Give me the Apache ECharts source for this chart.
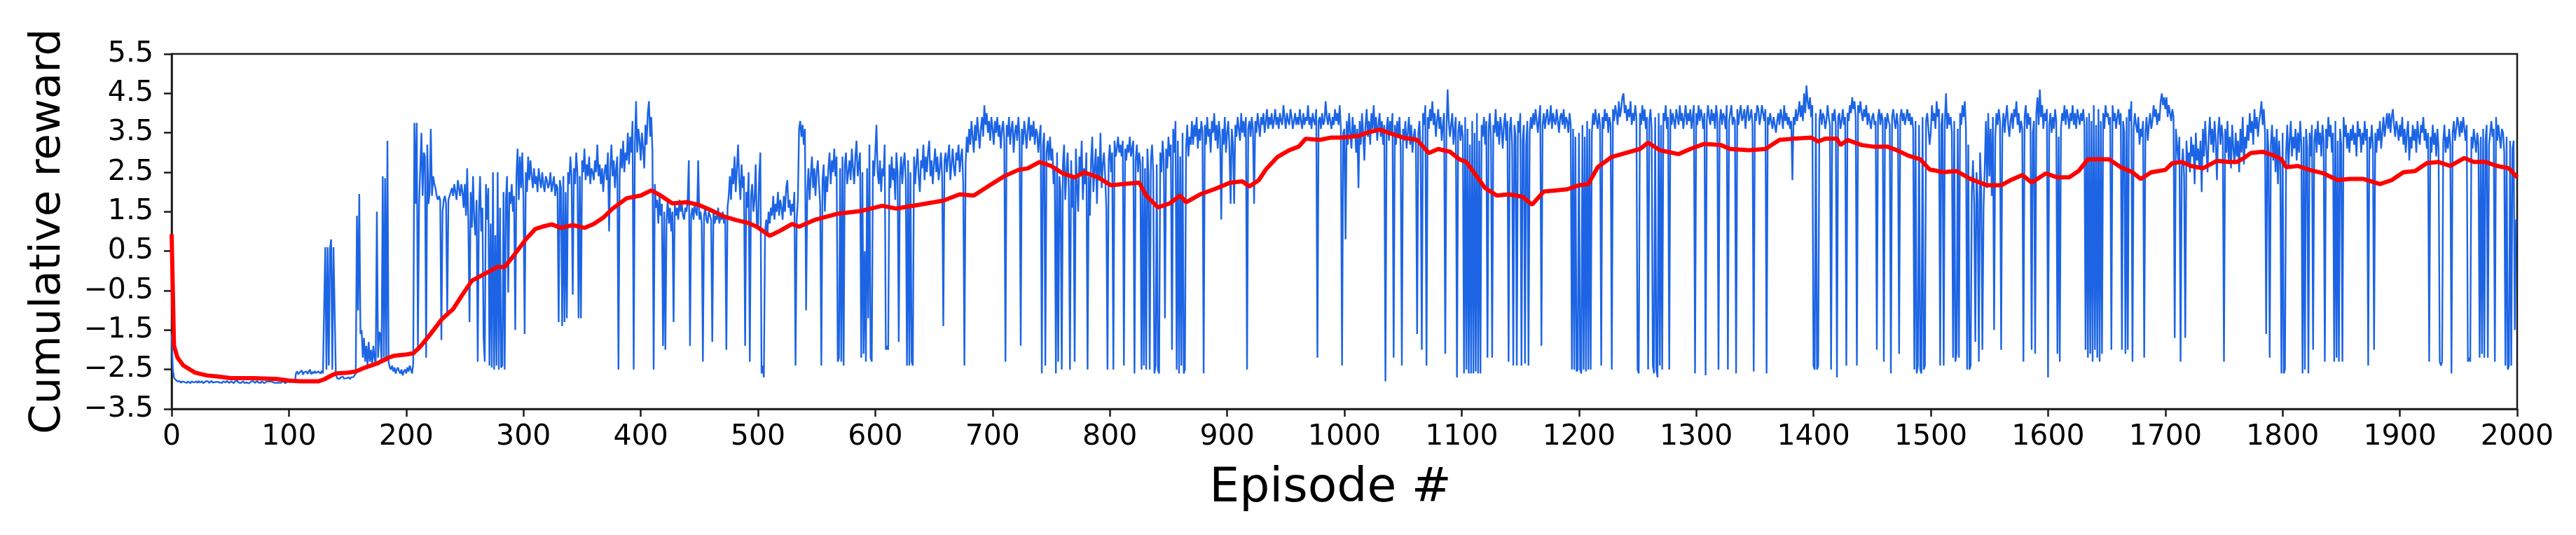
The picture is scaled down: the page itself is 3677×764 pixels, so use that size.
<!DOCTYPE html>
<html><head><meta charset="utf-8">
<script src="https://cdn.jsdelivr.net/npm/echarts@6/dist/echarts.min.js"></script>
<style>html,body{margin:0;padding:0;background:#fff}#c{width:3677px;height:764px}</style>
</head><body><div id="c"></div>
<script>
// Cumulative reward per episode (episodes 0..1999)
const rewards0 = [
-1.6,-2.5,-2.7,-2.75,-2.78,-2.8,-2.82,-2.8,-2.84,-2.8,
-2.8,-2.82,-2.79,-2.84,-2.8,-2.81,-2.85,-2.8,-2.78,-2.83,
-2.82,-2.8,-2.84,-2.79,-2.83,-2.81,-2.8,-2.85,-2.82,-2.8,
-2.83,-2.8,-2.84,-2.82,-2.79,-2.83,-2.8,-2.82,-2.84,-2.81,
-2.8,-2.83,-2.81,-2.84,-2.8,-2.82,-2.83,-2.79,-2.82,-2.84,
-2.81,-2.8,-2.83,-2.85,-2.8,-2.82,-2.79,-2.83,-2.81,-2.84,
-2.82,-2.8,-2.84,-2.81,-2.83,-2.8,-2.85,-2.82,-2.8,-2.83,
-2.8,-2.84,-2.82,-2.79,-2.83,-2.81,-2.84,-2.8,-2.82,-2.85,
-2.82,-2.8,-2.83,-2.81,-2.84,-2.8,-2.82,-2.83,-2.8,-2.84,
-2.81,-2.83,-2.8,-2.84,-2.82,-2.8,-2.83,-2.85,-2.82,-2.8,
-2.83,-2.82,-2.84,-2.8,-2.83,-2.82,-2.6,-2.55,-2.62,-2.58,
-2.6,-2.52,-2.63,-2.57,-2.6,-2.55,-2.61,-2.58,-2.5,-2.62,
-2.56,-2.6,-2.54,-2.59,-2.62,-2.55,-2.58,-2.6,-2.53,-2.6,
-2.57,0.6,-2.5,0.6,-2.4,0.55,0.8,-2.5,0.6,0.6,
-2.6,-2.72,-2.7,-2.74,-2.7,-2.72,-2.68,-2.73,-2.7,-2.72,
-2.71,-2.7,-2.74,-2.7,-2.72,-2.69,-2.71,-2.6,1.4,-1.0,
1.95,-1.6,-1.5,-2.2,-1.7,-2.3,-1.9,-2.4,-1.8,-2.3,
-2.0,-2.4,-1.9,-2.2,-2.4,1.5,-2.2,-1.55,-1.6,-2.3,
2.4,-2.2,2.35,-2.3,3.3,-2.3,-2.45,-2.5,-2.4,-2.55,
-2.45,-2.6,-2.5,-2.45,-2.55,-2.6,-2.5,-2.65,-2.55,-2.5,
-2.6,-2.45,-2.55,-2.4,-2.5,-2.6,-2.35,3.75,1.7,3.75,
-2.0,1.7,2.6,3.5,1.9,3.0,2.9,-2.2,3.2,1.7,
2.0,3.6,1.9,2.4,2.2,2.1,1.9,1.8,1.9,1.8,
-1.75,1.5,1.8,1.9,1.7,-1.1,1.8,1.9,2.0,2.1,
1.9,2.2,2.0,1.8,2.3,2.1,1.9,2.2,2.0,1.6
];
const rewards250 = [
2.2,1.4,2.6,1.2,-1.3,2.0,1.1,2.4,1.3,0.9,
1.8,-2.3,1.5,2.4,1.0,1.6,-1.7,-2.3,2.2,1.3,
2.1,-2.4,1.2,-2.45,2.5,-2.5,0.9,-2.4,2.5,-2.5,
1.6,-2.45,-2.4,2.0,-2.5,1.8,2.4,-0.55,2.0,1.7,
2.2,1.5,1.9,-1.5,2.4,3.1,1.8,2.9,2.1,3.0,
1.8,-1.6,2.5,2.0,2.9,2.3,2.8,2.4,2.1,2.6,
2.2,2.4,2.0,2.6,2.3,2.1,2.5,2.2,2.0,2.4,
2.3,2.1,2.2,2.5,2.0,2.2,2.4,1.9,2.2,2.1,
-1.3,2.3,2.1,-1.4,2.4,-1.3,2.0,-1.2,2.5,2.2,
2.9,2.4,-0.6,2.6,2.2,3.0,2.5,-1.2,2.4,-1.2,
2.8,2.5,3.1,2.3,2.7,2.4,2.9,2.2,2.6,2.5,
2.3,2.8,2.5,3.2,2.4,2.7,2.2,2.6,2.0,2.5,
2.7,2.3,3.0,1.0,2.6,3.2,2.4,2.8,2.1,2.6,
2.9,-2.5,2.4,3.1,2.6,3.3,2.5,3.0,2.8,3.5,
2.7,3.4,3.0,3.8,-2.5,3.2,4.3,3.0,3.6,3.3,
2.8,3.5,3.1,2.6,3.7,3.2,4.0,4.3,3.4,3.9,
3.0,-2.5,2.2,1.6,1.8,1.2,1.9,1.4,1.7,-1.9,
1.5,-2.0,1.3,1.8,1.2,1.6,1.0,1.5,-1.3,1.7,
1.4,1.6,1.3,1.8,1.5,1.7,1.4,1.3,1.6,1.5,
1.8,2.8,-1.9,1.4,1.6,1.3,1.7,1.5,1.4,2.8,
1.3,1.5,1.2,-2.3,1.4,1.6,1.3,1.2,1.5,1.4,
1.3,-1.8,1.5,1.2,1.4,1.3,1.6,1.2,1.4,1.3,
1.5,1.2,1.4,-2.0,1.6,1.9,2.4,1.8,2.6,2.2,
2.9,2.0,2.6,3.2,2.3,1.8,2.7,2.1,2.4,-1.9,
2.0,1.6,2.5,-2.3,1.9,2.2,1.5,1.8,2.7,1.2
];
const rewards500 = [
1.1,2.4,3.0,-2.6,-2.4,-2.7,1.0,1.3,0.9,1.5,
1.2,1.6,1.4,1.9,1.3,1.7,1.5,2.0,1.4,1.8,
1.6,1.3,1.9,1.5,2.1,2.3,1.6,1.8,1.4,1.7,
1.5,2.0,-2.4,1.3,1.8,3.6,3.8,3.4,3.7,3.2,
3.6,-1.0,2.0,2.6,1.8,2.4,2.9,2.1,2.6,1.9,
2.5,2.8,2.2,1.7,-2.4,2.3,2.7,1.5,2.4,2.0,
2.6,3.0,2.2,2.8,2.5,3.1,2.4,2.9,-2.3,-2.2,
2.6,-2.3,2.9,-2.4,2.7,3.0,2.2,2.5,2.8,2.3,
3.1,2.6,2.2,2.9,3.3,2.4,2.7,3.0,-2.2,2.5,
-2.1,0.5,-2.3,2.6,-1.2,3.2,-2.2,-2.3,2.8,2.4,
3.0,3.7,2.5,2.2,2.8,2.0,2.6,2.4,3.2,-2.0,
-1.9,-2.0,2.7,2.1,2.9,2.3,2.6,1.8,3.0,2.5,
-1.8,2.4,2.9,2.2,2.7,3.0,2.3,-2.4,2.8,-2.4,
2.5,-2.3,-2.4,2.9,2.2,2.7,3.1,2.4,2.0,2.8,
2.6,3.2,2.3,2.9,2.5,3.0,3.3,2.4,2.8,2.2,
2.7,3.1,2.5,2.9,2.3,2.6,3.0,2.4,-1.4,2.8,
3.0,2.5,2.9,3.2,2.3,2.7,3.1,2.6,2.4,3.0,
2.8,3.2,2.5,2.9,3.1,2.2,-2.4,2.7,3.4,3.0,
3.6,3.2,3.8,3.4,3.0,3.7,3.3,3.9,3.5,3.1,
3.6,3.9,3.4,4.2,3.7,4.0,3.5,3.8,3.3,3.9,
3.6,3.2,3.8,3.5,3.9,3.4,3.7,3.1,3.6,3.8,
3.3,-2.3,3.7,3.4,3.9,3.2,3.6,3.8,3.0,3.5,
3.7,3.3,3.9,3.4,-1.9,3.6,3.2,3.8,3.5,3.1,
3.6,3.9,3.3,3.7,3.4,3.8,3.2,3.6,3.5,3.0,
3.4,3.7,-2.6,3.2,3.5,-2.4,3.0,3.3,2.8,3.4
];
const rewards750 = [
2.8,3.1,2.2,2.6,-2.6,3.0,-2.3,2.4,2.0,-2.5,
2.7,3.2,1.8,2.5,3.0,2.1,-2.5,2.8,1.6,2.4,
-2.3,3.1,2.2,1.5,2.9,2.4,3.3,1.8,2.6,2.2,
3.0,-2.5,2.4,1.4,2.8,3.4,2.0,2.6,3.1,1.7,
2.9,2.3,3.5,2.1,2.7,3.0,2.4,1.6,-2.5,2.8,
3.2,2.5,3.0,-2.5,3.3,2.9,3.1,3.4,3.0,3.2,
2.9,3.3,-2.4,3.1,2.8,3.2,3.0,3.4,2.9,3.1,
3.3,-2.6,2.8,3.2,2.5,3.0,2.7,-2.5,2.9,-2.4,
2.6,-2.5,3.1,2.4,-2.5,2.8,3.2,2.5,-2.6,-2.4,
2.7,-2.5,-2.6,3.0,2.5,3.3,2.8,-1.2,3.1,2.6,
3.4,2.9,3.2,-2.0,3.6,3.0,3.8,-2.5,3.3,-2.6,
2.9,-2.4,3.5,-2.6,-2.5,3.1,3.7,2.9,3.4,3.2,
3.8,3.2,3.7,3.4,3.9,3.1,3.6,3.3,3.8,3.5,
-2.6,3.7,3.2,3.9,3.4,3.6,3.0,3.8,3.5,4.0,
3.3,3.7,3.1,3.8,3.4,1.3,3.6,3.2,3.9,3.0,
3.5,3.8,3.1,1.7,3.6,3.2,1.7,3.7,3.4,3.9,
3.6,3.3,4.0,3.5,3.8,3.4,3.9,-2.5,3.6,3.8,
3.4,3.9,3.6,1.7,3.8,3.5,4.0,3.7,3.4,3.9,
3.7,4.0,3.5,3.8,4.1,3.6,3.9,3.7,4.0,3.6,
3.8,4.1,3.7,3.9,3.6,4.0,3.8,3.7,4.2,3.9,
3.6,4.0,3.8,3.7,4.1,3.9,3.6,3.8,4.0,3.7,
3.9,3.7,4.1,3.8,3.6,4.0,3.7,3.9,3.8,4.2,
3.7,3.9,3.6,4.0,3.8,3.7,4.1,-2.2,3.8,3.9,
3.6,4.0,3.7,3.8,4.3,3.9,3.7,4.0,3.8,3.6,
3.9,3.7,4.1,3.8,4.0,3.7,4.2,3.6,-2.4,3.5
];
const rewards1000 = [
3.6,0.8,3.8,3.2,4.0,3.5,3.1,3.9,3.4,3.7,
3.0,3.6,2.1,3.8,3.2,4.0,3.5,2.8,3.7,4.1,
3.4,3.8,3.2,4.0,3.6,4.2,3.5,3.9,3.3,3.7,
4.0,3.4,3.8,3.2,3.7,-2.8,3.6,3.9,3.3,3.8,
3.5,4.0,-2.2,3.7,3.2,3.8,3.4,3.9,3.1,-2.4,
3.6,3.3,3.8,3.1,3.5,3.9,3.2,3.7,3.0,3.4,
3.6,3.2,-1.6,3.5,3.8,3.1,-2.0,4.0,3.7,4.2,
-2.4,3.9,3.6,4.1,3.8,4.3,3.7,4.0,3.4,3.8,
4.1,3.6,3.9,3.3,3.7,4.0,-2.1,3.5,4.6,3.8,
3.4,3.7,4.0,3.2,3.6,3.9,-2.7,3.5,3.8,3.3,
3.7,3.4,-2.6,3.9,-2.5,3.6,-2.6,3.2,-2.6,3.8,
-2.6,3.5,-2.55,4.0,-2.6,3.3,-2.6,3.7,3.4,3.9,
3.2,3.8,-2.2,3.6,4.0,3.3,-2.2,3.7,3.5,4.1,
3.4,3.8,3.2,3.9,3.6,3.1,3.7,4.0,3.3,3.8,
-2.3,3.6,3.9,3.2,-2.4,3.7,3.4,-2.4,3.8,3.5,
4.0,-2.4,3.3,3.7,-2.35,3.2,3.8,-2.4,3.5,3.9,
3.6,4.0,3.7,4.1,3.8,3.5,3.9,4.2,-1.9,3.7,
4.0,3.6,3.9,4.1,3.7,3.8,4.2,3.6,4.0,3.8,
3.7,4.1,3.8,3.5,3.9,4.0,3.7,4.1,3.6,3.9,
3.8,3.5,4.0,3.7,-2.5,3.6,-2.5,3.4,-2.55,-2.5,
3.5,-2.5,-2.6,3.7,-2.5,3.4,-2.55,3.8,-2.5,3.6,
-2.5,3.5,4.0,3.7,4.1,3.8,3.6,4.0,3.7,-2.4,
3.9,3.6,4.1,3.8,4.0,3.5,3.9,3.7,-2.5,4.1,
3.8,4.2,4.0,3.7,4.3,3.9,4.1,4.4,4.5,4.0,
4.2,3.8,4.1,3.9,4.3,3.7,4.0,3.8,4.2,3.9
];
const rewards1250 = [
-2.5,-2.6,4.0,3.7,4.2,3.8,4.1,3.6,3.9,-2.5,
3.8,4.1,3.6,-2.4,-2.6,3.9,-2.5,-2.7,4.0,-2.4,
3.7,-2.5,4.0,3.8,4.2,3.6,3.9,-2.5,4.1,3.7,
4.0,3.8,3.6,4.1,3.9,3.7,4.2,3.8,4.0,3.6,
3.9,4.2,3.7,4.0,3.8,4.1,3.6,3.9,4.2,-2.6,
4.0,3.7,4.2,3.8,4.1,3.9,3.6,4.0,-2.65,3.8,
4.2,3.9,3.7,4.1,3.8,4.0,3.6,4.2,3.9,-2.5,
3.8,4.1,3.7,4.0,3.9,3.6,4.2,-2.5,3.8,4.0,
4.2,3.7,3.9,3.8,-2.6,4.1,3.7,4.0,4.2,3.8,
3.9,4.1,3.6,4.0,4.2,3.8,3.9,4.1,3.7,-2.55,
4.0,3.8,4.2,4.1,3.7,3.9,4.2,4.0,3.8,4.1,
-2.6,3.9,3.7,4.0,3.8,3.6,3.9,3.7,3.5,3.8,
4.0,3.7,4.1,3.9,3.6,4.2,3.8,4.0,3.7,3.9,
3.6,3.8,2.3,3.9,3.7,4.1,3.8,4.0,4.3,3.9,
4.2,3.8,4.5,4.0,4.7,4.3,4.1,4.4,3.9,4.2,
-2.4,-2.5,4.0,-2.5,-2.4,3.8,4.1,3.7,4.0,3.9,
3.6,3.8,4.2,3.9,3.7,-2.5,4.0,3.8,4.1,3.7,
-2.7,3.9,4.0,3.6,3.8,4.1,3.7,3.9,-2.4,4.0,
3.8,4.2,4.0,4.4,4.1,4.3,3.9,-2.4,4.2,4.0,
4.3,4.0,3.8,4.1,3.9,4.2,3.7,4.0,3.8,3.6,
3.9,4.0,3.7,3.8,-2.0,3.9,4.1,3.7,4.0,3.8,
-2.3,3.9,3.6,4.0,3.8,3.7,-2.6,3.9,4.1,3.8,
3.6,4.0,3.7,-2.1,3.9,4.1,3.8,4.0,3.7,3.9,
4.1,3.8,4.0,3.7,3.9,3.6,-2.5,3.8,-2.6,-2.4,
3.7,-2.5,-2.6,3.9,-2.5,-2.4,3.8,4.0,3.6,3.2
];
const rewards1500 = [
3.5,4.2,3.8,4.0,3.6,4.3,3.9,4.1,-2.4,3.7,
4.0,-2.4,3.8,4.5,3.6,4.0,3.7,3.9,3.5,-2.2,
3.8,-2.3,-2.1,3.6,-2.2,4.0,3.7,4.2,3.9,4.3,
3.6,-2.5,3.2,-2.5,-2.4,2.0,2.8,1.7,-1.8,2.5,
1.8,-2.3,3.0,2.2,-2.0,1.6,2.6,3.8,2.1,4.0,
2.4,3.6,1.9,3.9,-1.5,3.4,4.0,3.7,4.1,3.8,
-2.0,3.6,4.0,3.5,3.9,4.2,3.7,3.4,3.8,4.0,
3.6,4.1,3.9,4.3,3.7,4.0,3.5,3.8,3.6,-2.3,
3.9,4.2,3.6,4.0,3.7,3.9,-2.0,3.5,3.8,-2.1,
4.0,4.4,3.7,4.6,3.9,4.2,3.6,4.0,3.8,4.1,
-2.7,3.7,4.0,3.5,3.9,3.6,4.1,3.8,-2.1,3.4,
-2.3,3.6,4.0,3.8,4.2,3.7,4.1,3.9,3.6,4.0,
3.8,4.2,3.7,4.0,3.6,4.1,3.9,3.7,4.0,3.8,
4.1,3.7,-2.0,3.9,-2.2,4.0,-2.1,3.8,-2.3,4.2,
-2.0,3.7,-2.2,4.1,-2.3,3.8,-2.1,4.0,3.6,4.2,
3.9,4.0,3.7,3.9,-2.0,4.2,3.8,4.0,3.6,3.9,
4.1,3.7,4.0,-2.0,3.8,3.5,-2.1,3.9,-2.0,4.1,
3.8,4.3,-2.3,3.6,4.0,3.7,3.5,3.9,3.2,3.6,
3.4,3.8,-2.2,3.5,3.9,3.3,3.7,4.0,3.6,3.8,
4.2,3.9,4.1,3.7,4.0,3.8,4.3,4.5,4.2,4.4,
4.1,4.4,3.9,4.2,4.0,3.8,4.1,3.9,-1.7,3.6,
3.2,2.8,3.4,-2.3,2.6,3.1,2.4,-1.7,3.3,2.7,
3.0,2.5,3.4,2.9,3.2,2.2,3.5,2.8,3.1,2.6,
3.3,2.0,3.6,2.9,3.8,3.1,2.5,3.4,3.9,3.2,
3.6,3.0,3.8,3.3,2.3,3.5,3.9,3.2,3.7,3.4
];
const rewards1750 = [
-2.3,3.6,3.0,3.8,2.8,3.4,2.6,3.7,3.1,2.7,
3.5,2.9,3.3,2.5,3.6,3.0,3.9,2.7,3.4,3.1,
3.7,3.3,4.0,3.5,3.8,3.2,4.1,3.6,3.9,3.4,
3.8,4.0,4.3,3.7,4.1,3.5,-1.6,3.6,3.0,-2.2,
3.2,3.7,2.8,3.4,2.5,3.6,2.2,3.3,2.7,-2.6,
3.5,-2.6,-2.5,3.0,3.7,2.6,3.3,3.8,2.9,3.4,
3.1,3.6,2.8,3.5,3.0,3.8,3.2,-2.6,3.4,-2.5,
3.6,3.1,-2.6,3.5,2.9,3.7,-2.0,3.3,3.6,3.0,
3.8,3.2,3.5,2.9,3.7,3.3,-2.3,3.6,3.1,3.9,
3.4,3.7,3.0,3.5,-2.3,3.8,-2.2,3.3,-2.3,3.6,
3.2,-2.3,3.9,3.4,3.7,3.1,3.5,3.0,3.6,3.3,
3.7,3.2,3.5,2.9,3.8,3.4,3.6,3.0,3.5,3.2,
3.8,3.3,3.6,-2.4,3.4,3.1,3.7,3.2,-2.0,3.5,
3.0,3.6,3.3,3.8,3.1,3.5,3.9,3.4,3.7,4.0,
3.6,4.0,3.5,3.9,4.1,3.7,3.4,3.8,3.6,3.3,
3.7,3.4,3.9,3.2,3.6,3.0,3.5,3.8,2.8,3.4,
3.1,3.7,3.3,3.6,3.0,3.8,3.4,3.2,3.7,3.5,
3.9,3.3,3.6,3.1,3.5,-2.3,3.4,3.0,3.7,3.2,
3.5,2.9,3.6,3.1,-2.3,-2.4,-2.3,3.3,3.7,3.0,
3.4,3.1,3.6,3.2,-2.6,3.5,3.8,3.3,3.6,3.9,
3.7,3.4,3.8,3.5,3.9,3.6,3.3,3.7,-2.3,-2.2,
-2.3,3.4,3.1,3.6,3.3,3.0,3.5,3.2,-2.2,3.4,
-2.1,3.6,-2.2,3.3,3.7,-2.2,3.2,3.5,3.8,3.4,
3.6,-2.3,3.9,3.3,3.7,3.4,3.1,3.6,3.5,3.0,
-2.4,3.4,-2.5,-2.4,3.3,-2.4,3.1,3.3,-1.5,1.3
];

// Running average (red line)
const avgEpisodes = [0,2,5,10,20,30,40,50,70,90,100,110,125,130,135,140,150,157,165,175,185,190,200,206,212,220,230,235,240,248,256,268,278,284,292,302,310,316,324,332,342,352,360,368,376,388,400,409,417,427,439,449,459,471,481,491,499,510,519,529,535,548,568,588,606,618,638,658,672,684,696,710,722,730,740,750,760,770,778,790,801,825,831,841,851,860,865,877,889,903,913,919,927,933,943,953,961,967,979,989,997,1012,1020,1030,1040,1050,1062,1072,1080,1090,1098,1104,1112,1120,1130,1140,1152,1160,1170,1180,1190,1200,1208,1216,1228,1240,1252,1259,1269,1285,1295,1307,1321,1329,1345,1359,1371,1383,1398,1404,1410,1420,1423,1429,1441,1451,1463,1471,1481,1491,1499,1503,1510,1522,1534,1548,1560,1568,1578,1586,1598,1608,1618,1626,1634,1646,1652,1662,1672,1679,1688,1700,1706,1714,1722,1732,1744,1754,1761,1767,1773,1783,1793,1799,1803,1813,1823,1835,1847,1857,1869,1883,1893,1903,1913,1923,1933,1943,1955,1963,1973,1983,1993,2000];
const avgRewards = [0.93,-1.9,-2.2,-2.4,-2.58,-2.65,-2.68,-2.72,-2.72,-2.74,-2.78,-2.8,-2.8,-2.75,-2.67,-2.6,-2.58,-2.55,-2.45,-2.35,-2.2,-2.15,-2.12,-2.09,-1.92,-1.63,-1.24,-1.1,-0.97,-0.6,-0.25,-0.06,0.1,0.1,0.4,0.8,1.06,1.12,1.18,1.09,1.16,1.09,1.19,1.35,1.58,1.84,1.91,2.04,1.91,1.71,1.74,1.68,1.55,1.38,1.29,1.22,1.12,0.89,1.02,1.19,1.12,1.29,1.45,1.52,1.65,1.58,1.68,1.78,1.94,1.91,2.14,2.4,2.56,2.6,2.76,2.66,2.47,2.37,2.5,2.37,2.17,2.24,1.91,1.61,1.71,1.91,1.74,1.94,2.07,2.24,2.27,2.14,2.3,2.57,2.89,3.06,3.15,3.35,3.32,3.38,3.38,3.42,3.51,3.58,3.48,3.38,3.32,2.99,3.09,3.02,2.83,2.76,2.43,2.1,1.91,1.94,1.88,1.68,2.01,2.04,2.07,2.17,2.2,2.63,2.89,2.99,3.09,3.25,3.06,2.96,3.09,3.22,3.19,3.09,3.06,3.09,3.32,3.35,3.38,3.28,3.35,3.35,3.19,3.32,3.19,3.15,3.15,3.06,2.92,2.83,2.57,2.55,2.5,2.53,2.33,2.17,2.17,2.3,2.43,2.24,2.47,2.37,2.37,2.53,2.83,2.83,2.83,2.63,2.5,2.33,2.5,2.56,2.73,2.76,2.66,2.6,2.79,2.76,2.76,2.86,2.99,3.02,2.92,2.83,2.63,2.66,2.56,2.47,2.3,2.33,2.33,2.2,2.3,2.5,2.53,2.73,2.76,2.66,2.86,2.76,2.76,2.66,2.6,2.37];

const rewards = [].concat(rewards0, rewards250, rewards500, rewards750, rewards1000, rewards1250, rewards1500, rewards1750);
const rawData = rewards.map((v, i) => [i, v]);
const avgData = avgEpisodes.map((e, i) => [e, avgRewards[i]]);

const FONT = 'DejaVu Sans';
const chart = echarts.init(document.getElementById('c'), null, {renderer: 'canvas'});
chart.setOption({
  animation: false,
  backgroundColor: '#ffffff',
  grid: {left: 245, right: 84, top: 77, bottom: 180, show: true, borderColor: '#1a1a1a', borderWidth: 2.5, backgroundColor: 'transparent'},
  xAxis: {
    type: 'value', min: 0, max: 2000, interval: 100,
    name: 'Episode #', nameLocation: 'middle', nameGap: 80,
    nameTextStyle: {fontFamily: FONT, fontSize: 68, color: '#000', padding: [0, 40, 0, 0]},
    axisLine: {show: true, onZero: false, lineStyle: {color: '#1a1a1a', width: 2.5}},
    axisTick: {show: true, inside: false, length: 11, lineStyle: {color: '#1a1a1a', width: 2.5}},
    axisLabel: {fontFamily: FONT, fontSize: 41, color: '#000', margin: 20,
      formatter: v => String(Math.round(v))},
    splitLine: {show: false}
  },
  yAxis: {
    type: 'value', min: -3.5, max: 5.5, interval: 1,
    name: 'Cumulative reward', nameLocation: 'middle', nameRotate: 90, nameGap: 145,
    nameTextStyle: {fontFamily: FONT, fontSize: 61, color: '#000'},
    axisLine: {show: true, onZero: false, lineStyle: {color: '#1a1a1a', width: 2.5}},
    axisTick: {show: true, inside: false, length: 11, lineStyle: {color: '#1a1a1a', width: 2.5}},
    axisLabel: {fontFamily: FONT, fontSize: 41, color: '#000', margin: 26,
      formatter: v => v.toFixed(1).replace('-', '\u2212')},
    splitLine: {show: false}
  },
  series: [
    {type: 'line', data: rawData, showSymbol: false, symbol: 'none',
     lineStyle: {color: '#1c64e4', width: 2.4}, z: 2, silent: true},
    {type: 'line', data: avgData, showSymbol: false, symbol: 'none',
     lineStyle: {color: '#ff0000', width: 6}, z: 3, silent: true}
  ]
});
</script>
</body></html>
